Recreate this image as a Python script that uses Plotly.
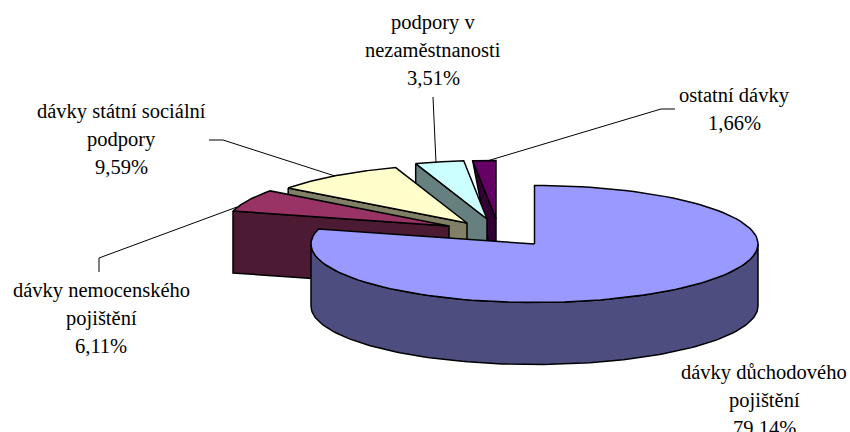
"""
Rozdělení sociálních dávek - prostorový koláč s vysunutými výsečemi.
Plotly nemá 3D koláč, výseče se proto počítají z hodnot jako elipsy.
"""
import numpy as np
import plotly.graph_objects as go

# data
categories = [
    "dávky důchodového pojištění",
    "dávky nemocenského pojištění",
    "dávky státní sociální podpory",
    "podpory v nezaměstnanosti",
    "ostatní dávky",
]
shares = [79.14, 6.11, 9.59, 3.51, 1.66]
label_texts = [
    ["dávky důchodového", "pojištění", "79,14%"],
    ["dávky nemocenského", "pojištění", "6,11%"],
    ["dávky státní sociální", "podpory", "9,59%"],
    ["podpory v", "nezaměstnanosti", "3,51%"],
    ["ostatní dávky", "1,66%"],
]

# barvy
top_colors = ["#9999FF", "#993366", "#FFFFCC", "#CCFFFF", "#660066"]
side_colors = ["#4D4D80", "#4D1A33", "#808066", "#668080", "#330033"]

# geometrie koláče (v pixelech stránky)
RX, RY, DEPTH = 223.5, 58.5, 62
tip_x = [534.5, 449, 467, 487, 496]
tip_y = [244, 226, 223, 219, 219]
outer_drop = [62, 62, 62, 62, 0]

# popisky
label_x = [764, 101, 121, 433, 734]
label_y = [372, 290, 111, 22, 95]
LINE_STEP = 28

leaders = [
    ([209, 223, 335], [140, 140, 176]),
    ([433, 436], [97, 163]),
    ([675, 661, 487], [109, 109, 161]),
    ([99, 99, 237], [272, 258, 207]),
]


def ellipse(cx, cy, start, end, n=120):
    """Body na obvodu elipsy, úhel ve stupních po směru hodin od 12 h."""
    t = np.radians(np.linspace(start, end, n))
    return cx + RX * np.sin(t), cy - RY * np.cos(t)


def add_poly(fig, x, y, color):
    fig.add_trace(go.Scatter(
        x=list(x) + [x[0]], y=list(y) + [y[0]], mode="lines",
        fill="toself", fillcolor=color,
        line=dict(color="black", width=1.5),
        hoverinfo="skip", showlegend=False,
    ))


angles = np.concatenate([[0], np.cumsum(shares)]) / sum(shares) * 360

fig = go.Figure()

# kreslí se odzadu, hlavní výseč je až nakonec
for i in [4, 3, 2, 1, 0]:
    start, end = angles[i], angles[i + 1]
    cx, cy = tip_x[i], tip_y[i]
    ax, ay = ellipse(cx, cy, start, end)

    if i == 0:
        # plášť přední části
        sx, sy = ellipse(cx, cy, 90, 270)
        add_poly(
            fig,
            np.concatenate([sx, sx[::-1]]),
            np.concatenate([sy, sy[::-1] + DEPTH]),
            side_colors[i],
        )
    else:
        # radiální stěna vysunuté výseče
        add_poly(
            fig,
            [ax[0], cx, cx, ax[0]],
            [ay[0], cy, cy + DEPTH, ay[0] + outer_drop[i]],
            side_colors[i],
        )
    add_poly(
        fig,
        np.concatenate([[cx], ax]),
        np.concatenate([[cy], ay]),
        top_colors[i],
    )

for lx, ly in leaders:
    fig.add_trace(go.Scatter(
        x=lx, y=ly, mode="lines",
        line=dict(color="black", width=1),
        hoverinfo="skip", showlegend=False,
    ))

for lines, x0, y0 in zip(label_texts, label_x, label_y):
    for j, line in enumerate(lines):
        fig.add_annotation(
            x=x0, y=y0 + j * LINE_STEP, text=line, showarrow=False,
            xanchor="center", yanchor="middle",
            font=dict(family="Liberation Serif", size=20.5, color="black"),
        )

fig.update_xaxes(range=[0, 850], visible=False)
fig.update_yaxes(range=[432, 0], visible=False)
fig.update_layout(
    width=850, height=432,
    margin=dict(t=0, b=0, l=0, r=0),
    paper_bgcolor="white", plot_bgcolor="white",
    showlegend=False,
)
# stránka nemá mít okraj kolem grafu
fig.write_html(
    "out.html",
    config={"displayModeBar": False},
    post_script="document.body.style.margin = '0';",
)
